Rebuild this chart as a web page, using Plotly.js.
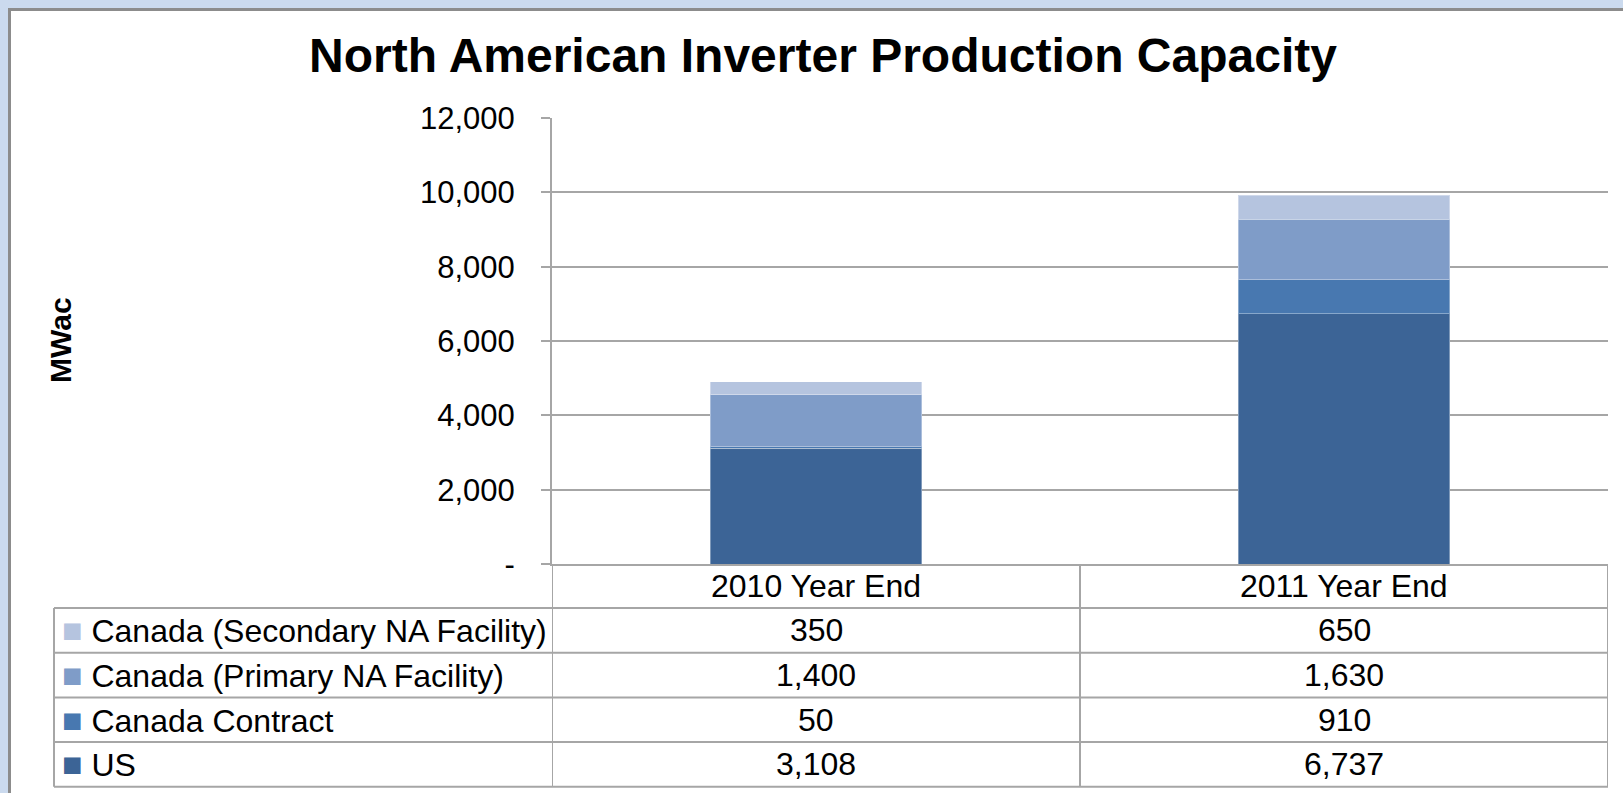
<!DOCTYPE html>
<html>
<head>
<meta charset="utf-8">
<script src="https://cdn.plot.ly/plotly-3.0.1.min.js"></script>
<style>
    html, body { margin: 0; padding: 0; width: 1623px; height: 793px; overflow: hidden; background: #cbdaee; }
    #panel { position: absolute; left: 8px; top: 8px; right: 0; bottom: 0; background: #ffffff; border-left: 3px solid #8c8c8c; border-top: 3px solid #8c8c8c; }
    #chart { position: absolute; left: 0; top: 0; width: 1623px; height: 793px; }
</style>
</head>
<body>
<div id="panel"></div>
<div id="chart"></div>
<script>
// categories and series (MWac)
const categories = ["2010 Year End", "2011 Year End"];
const seriesNames = ["US", "Canada Contract", "Canada (Primary NA Facility)", "Canada (Secondary NA Facility)"];
const usValues = [3108, 6737];
const contractValues = [50, 910];
const primaryValues = [1400, 1630];
const secondaryValues = [350, 650];
const seriesColors = ["#3c6496", "#4878b0", "#7f9cc8", "#b5c4df"];

const yTickVals = [0, 2000, 4000, 6000, 8000, 10000, 12000];
const yTickText = ["-", "2,000", "4,000", "6,000", "8,000", "10,000", "12,000"];

const W = 1623, H = 793;
const FONT = "Liberation Sans, Arial, sans-serif";
const gridGray = "#a6a6a6";

// pixel layout
const plotLeft = 552, plotRight = 1608, plotTop = 118, plotBottom = 564;
const tableLeft = 54;
const headerH = 44, rowH = 44.7;

const px = x => x / W;          // pixel x -> paper
const py = y => 1 - y / H;      // pixel y -> paper

const allValues = [usValues, contractValues, primaryValues, secondaryValues];

// stacked bars, US at the bottom
const barTraces = allValues.map((vals, i) => ({
    type: "bar",
    x: categories,
    y: vals,
    name: seriesNames[i],
    marker: { color: seriesColors[i], line: { color: "rgba(255,255,255,0.35)", width: 1 } },
    hoverinfo: "name+y"
}));

// data table under the plot: header row + one row per series, top of stack first
const order = [3, 2, 1, 0];
const tableFont = { family: FONT, size: 32, color: "#000000" };
const annotations = [];
const shapes = [];
const line = { color: gridGray, width: 2 };

categories.forEach(cat => {
    annotations.push({
        text: cat, xref: "x", yref: "paper", x: cat, y: py(plotBottom + headerH / 2),
        xanchor: "center", yanchor: "middle", showarrow: false, font: tableFont
    });
});

order.forEach((s, r) => {
    const yMid = py(plotBottom + headerH + rowH * (r + 0.5));
    annotations.push({
        text: `<span style="color:${seriesColors[s]};font-size:34px">■</span> ${seriesNames[s]}`,
        xref: "paper", yref: "paper", x: px(tableLeft + 6), y: yMid,
        xanchor: "left", yanchor: "middle", showarrow: false, font: tableFont
    });
    categories.forEach((cat, c) => {
        annotations.push({
            text: allValues[s][c].toLocaleString("en-US"),
            xref: "x", yref: "paper", x: cat, y: yMid,
            xanchor: "center", yanchor: "middle", showarrow: false, font: tableFont
        });
    });
});

// horizontal rules: bottom of header and each row
for (let r = 0; r <= order.length; r++) {
    const y = py(plotBottom + headerH + rowH * r);
    shapes.push({ type: "line", xref: "paper", yref: "paper", x0: px(tableLeft), x1: px(plotRight), y0: y, y1: y, line });
}
// vertical rules: table left edge, then category boundaries
const tableBottom = py(plotBottom + headerH + rowH * order.length);
shapes.push({ type: "line", xref: "paper", yref: "paper", x0: px(tableLeft), x1: px(tableLeft),
    y0: py(plotBottom + headerH), y1: tableBottom, line });
for (let k = 0; k <= categories.length; k++) {
    shapes.push({ type: "line", xref: "x", yref: "paper", x0: k - 0.5, x1: k - 0.5,
        y0: py(plotBottom), y1: tableBottom, line });
}

const layout = {
    width: W,
    height: H,
    margin: { l: 0, r: 0, t: 0, b: 0 },
    paper_bgcolor: "rgba(0,0,0,0)",
    plot_bgcolor: "rgba(0,0,0,0)",
    barmode: "stack",
    bargap: 0.6,
    showlegend: false,
    title: {
        text: "North American Inverter Production Capacity",
        x: px(823), xanchor: "center",
        y: py(55), yanchor: "middle",
        font: { family: FONT, size: 48, color: "#000000", weight: "bold" }
    },
    xaxis: {
        domain: [px(plotLeft), px(plotRight)],
        range: [-0.5, 1.5],
        showticklabels: false,
        ticks: "",
        showgrid: false,
        showline: true,
        linecolor: gridGray,
        linewidth: 2,
        fixedrange: true
    },
    yaxis: {
        domain: [py(plotBottom), py(plotTop)],
        range: [0, 12000],
        tickvals: yTickVals,
        ticktext: yTickText,
        ticks: "outside",
        ticklen: 9,
        tickwidth: 2,
        tickcolor: gridGray,
        ticklabelstandoff: 20,
        showline: true,
        linecolor: gridGray,
        linewidth: 2,
        showgrid: true,
        gridcolor: gridGray,
        gridwidth: 2,
        zeroline: false,
        tickfont: { family: FONT, size: 31, color: "#000000" },
        fixedrange: true
    },
    shapes: shapes,
    annotations: annotations.concat([{
        text: "MWac",
        xref: "paper", yref: "paper",
        x: px(60), y: py(340),
        xanchor: "center", yanchor: "middle",
        textangle: -90,
        showarrow: false,
        font: { family: FONT, size: 30, color: "#000000", weight: "bold" }
    }])
};

Plotly.newPlot("chart", barTraces, layout, { displayModeBar: false, staticPlot: true });
</script>
</body>
</html>
